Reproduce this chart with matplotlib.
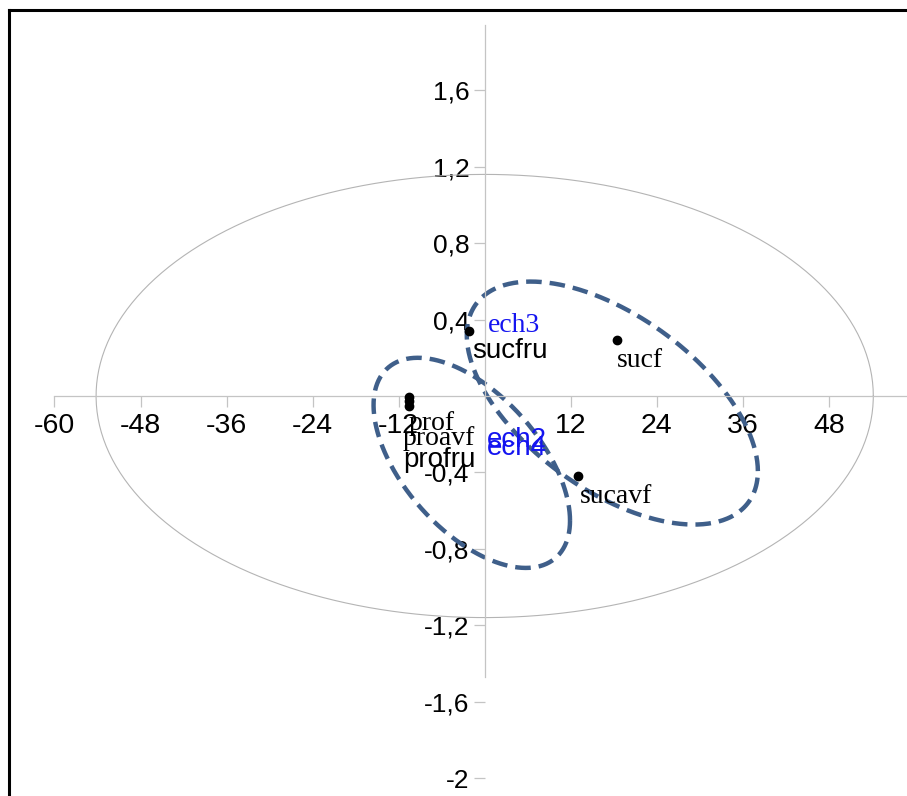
import numpy as np
import matplotlib
matplotlib.use("Agg")
import matplotlib.pyplot as plt
from matplotlib.lines import Line2D

# individus (points) and their labels
pt_names = ["sucfru", "sucf", "prof", "proavf", "profru", "sucavf"]
pt_x = [-2.2, 18.4, -10.6, -10.6, -10.6, 13.0]
pt_y = [0.342, 0.293, -0.004, -0.026, -0.051, -0.42]

# label anchors (left / baseline) and font kind
lab_x = [-1.7, 18.5, -10.6, -11.5, -11.4, 13.3]
lab_y = [0.197, 0.15, -0.18, -0.257, -0.37, -0.56]
lab_serif = [False, True, True, True, False, True]

# groups (echantillons)
grp_names = ["ech3", "ech2", "ech4"]
grp_x = [0.4, 0.3, 0.3]
grp_y = [0.337, -0.265, -0.31]
grp_serif = [True, False, False]

# confidence ellipses: centre, half-range x, half-range y, correlation
ell_cx = [17.8, -1.8]
ell_cy = [-0.037, -0.35]
ell_a = [20.3, 13.7]
ell_b = [0.636, 0.55]
ell_r = [-0.56, -0.55]

# big reference ellipse
big_a = 54.2
big_b = 1.16

xticks = [-60, -48, -36, -24, -12, 12, 24, 36, 48]
yticks = [-2, -1.6, -1.2, -0.8, -0.4, 0.4, 0.8, 1.2, 1.6]


def fmt(v):
    s = ("%g" % v).replace(".", ",")
    return s


fig = plt.figure(figsize=(9.07, 7.96), dpi=100)
ax = fig.add_axes([0, 0, 1, 1])
ax.set_xlim(-67.6, 58.9)
ax.set_ylim(-2.094, 2.073)

for s in ["top", "right"]:
    ax.spines[s].set_visible(False)
ax.spines["left"].set_position(("data", 0))
ax.spines["bottom"].set_position(("data", 0))
ax.spines["left"].set_bounds(-1.47, 1.94)
ax.spines["bottom"].set_bounds(-60, 58.9)
for s in ["left", "bottom"]:
    ax.spines[s].set_color("#c4c4c4")
    ax.spines[s].set_linewidth(0.9)

ax.set_xticks(xticks)
ax.set_xticklabels([fmt(v) for v in xticks], fontsize=20.5, family="Liberation Sans")
ax.set_yticks(yticks)
ax.set_yticklabels([fmt(v) for v in yticks], fontsize=19, family="Liberation Sans")
ax.tick_params(axis="both", direction="out", length=8, width=0.9, color="#c4c4c4")
ax.tick_params(axis="x", pad=4)
ax.tick_params(axis="y", pad=3)

t = np.linspace(0, 2 * np.pi, 400)
ax.plot(big_a * np.cos(t), big_b * np.sin(t), color="#b4b4b4", lw=0.8)

for i in range(len(ell_cx)):
    phi = np.arccos(ell_r[i])
    ex = ell_cx[i] + ell_a[i] * np.cos(t)
    ey = ell_cy[i] + ell_b[i] * np.cos(t - phi)
    ax.plot(ex, ey, color="#3f5f8a", lw=3.2, dashes=(3.5, 1.8))

ax.plot(pt_x, pt_y, "o", color="black", ms=6, zorder=5)

for i, name in enumerate(pt_names):
    fam = "Liberation Serif" if lab_serif[i] else "Liberation Sans"
    ax.text(lab_x[i], lab_y[i], name, fontsize=20, family=fam, color="black",
            ha="left", va="baseline", zorder=6)

for i, name in enumerate(grp_names):
    fam = "Liberation Serif" if grp_serif[i] else "Liberation Sans"
    ax.text(grp_x[i], grp_y[i], name, fontsize=20, family=fam, color="#1414f0",
            ha="left", va="baseline", zorder=6)

# black frame (left and top)
fig.add_artist(Line2D([9 / 907, 9 / 907], [0, 1 - 10 / 796], color="black", lw=2.2,
                      transform=fig.transFigure))
fig.add_artist(Line2D([9 / 907, 1], [1 - 10 / 796, 1 - 10 / 796], color="black", lw=2.2,
                      transform=fig.transFigure))

fig.savefig("out.png", dpi=100)
